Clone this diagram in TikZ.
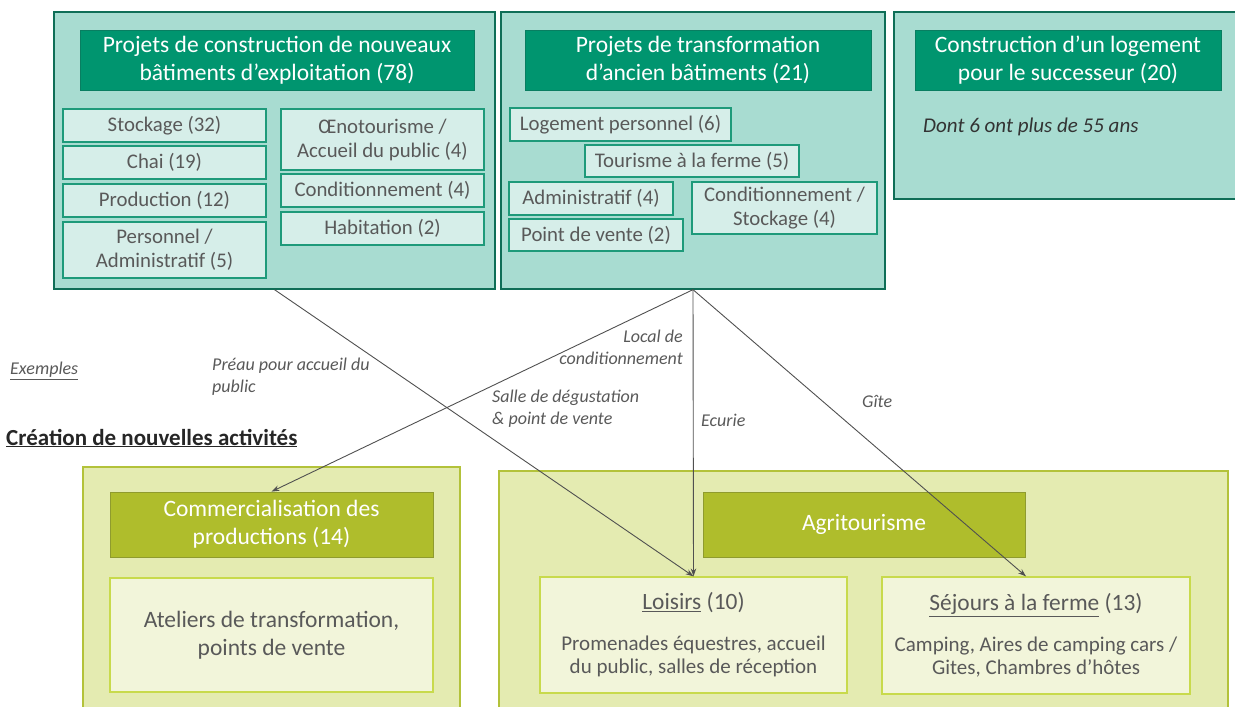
\documentclass[tikz,border=0pt]{standalone}
\usepackage{fontspec}
\setmainfont{Carlito}
\usetikzlibrary{arrows.meta}
\definecolor{tealbg}{HTML}{A8DCD1}
\definecolor{tealbd}{HTML}{0F6E57}
\definecolor{tealtitle}{HTML}{00956F}
\definecolor{tealsub}{HTML}{D6EEE9}
\definecolor{tealsubbd}{HTML}{1E9A7A}
\definecolor{txtgray}{HTML}{595959}
\definecolor{greenbg}{HTML}{E4EBB1}
\definecolor{greenbd}{HTML}{B3C23A}
\definecolor{greentitle}{HTML}{AFBD2C}
\definecolor{greensub}{HTML}{F2F5DA}
\definecolor{greensubbd}{HTML}{C8DA4C}
\definecolor{linegray}{HTML}{505050}
\tikzset{
  outerteal/.style={draw=tealbd, line width=1.3pt, fill=tealbg, inner sep=0},
  titleteal/.style={draw=tealbd!60!tealtitle, line width=0.8pt, fill=tealtitle, text=white, align=center,
     font=\fontsize{23.5}{28}\selectfont, inner sep=0},
  subteal/.style={draw=tealsubbd, line width=1.3pt, fill=tealsub, text=txtgray, align=center,
     font=\fontsize{20.8}{24}\selectfont, inner sep=0},
  outergreen/.style={draw=greenbd, line width=1.3pt, fill=greenbg, inner sep=0},
  titlegreen/.style={draw=greenbd!80!black, line width=0.8pt, fill=greentitle, text=white, align=center,
     font=\fontsize{23.5}{28}\selectfont, inner sep=0},
  subgreen/.style={draw=greensubbd, line width=1.3pt, fill=greensub, text=txtgray, align=center, inner sep=0},
  lbl/.style={text=txtgray, font=\fontsize{18}{22}\selectfont\itshape, inner sep=0},
  conn/.style={draw=linegray, line width=0.9pt, -{Stealth[length=8pt,width=5.5pt]}},
}
\begin{document}
\begin{tikzpicture}[x=1pt,y=-1pt]
\useasboundingbox (0,0) rectangle (1235,707);
% --- Top boxes ---
\node[outerteal, minimum width=441, minimum height=277] (A) at (274.5,150.5) {};
\node[titleteal, minimum width=394, minimum height=60] (Atitle) at (277,60) {Projets de construction de nouveaux\\bâtiments d’exploitation (78)};
\node[subteal, minimum width=203, minimum height=33] (a1) at (164.5,125.5) {Stockage (32)};
\node[subteal, minimum width=203, minimum height=33] (a2) at (164.5,162.5) {Chai (19)};
\node[subteal, minimum width=203, minimum height=33] (a3) at (164.5,200.5) {Production (12)};
\node[subteal, minimum width=203, minimum height=56] (a4) at (164.5,250) {Personnel /\\Administratif (5)};
\node[subteal, minimum width=203, minimum height=61] (a5) at (382.5,139.5) {Œnotourisme /\\Accueil du public (4)};
\node[subteal, minimum width=203, minimum height=33] (a6) at (382.5,190.5) {Conditionnement (4)};
\node[subteal, minimum width=203, minimum height=33] (a7) at (382.5,228.5) {Habitation (2)};

\node[outerteal, minimum width=384, minimum height=277] (B) at (693,150.5) {};
\node[titleteal, minimum width=346, minimum height=60] (Btitle) at (698,60) {Projets de transformation\\d’ancien bâtiments (21)};
\node[subteal, minimum width=221, minimum height=33] (b1) at (620.5,124.5) {Logement personnel (6)};
\node[subteal, minimum width=214, minimum height=32] (b2) at (692,161) {Tourisme à la ferme (5)};
\node[subteal, minimum width=164, minimum height=33] (b3) at (591,198.5) {Administratif (4)};
\node[subteal, minimum width=174, minimum height=32] (b4) at (596,235) {Point de vente (2)};
\node[subteal, minimum width=185, minimum height=52] (b5) at (784.5,208) {Conditionnement /\\Stockage (4)};

\node[outerteal, minimum width=346, minimum height=187] (C) at (1067,105.5) {};
\node[titleteal, minimum width=306, minimum height=60] (Ctitle) at (1068,60) {Construction d’un logement\\pour le successeur (20)};
\node[anchor=west, inner sep=0, text=black!80, font=\fontsize{21}{24}\selectfont\itshape] (Cnote) at (923,127) {Dont 6 ont plus de 55 ans};

% --- Side texts ---
\node[anchor=west, lbl] (ex) at (10,371) {\underline{Exemples}};
\node[anchor=west, inner sep=0, text=black!85, font=\fontsize{23}{26}\selectfont\bfseries] (crea) at (6,438) {\underline{Création de nouvelles activités}};

% --- Bottom boxes ---
\node[outergreen, minimum width=377, minimum height=250] (D) at (271.5,592) {};
\node[titlegreen, minimum width=323, minimum height=65] (comm) at (271.5,524.5) {Commercialisation des\\productions (14)};
\node[subgreen, minimum width=323, minimum height=114, font=\fontsize{23.5}{28}\selectfont] (atel) at (271.5,635) {Ateliers de transformation,\\points de vente};

\node[outergreen, minimum width=729, minimum height=246] (E) at (863.5,594) {};
\node[titlegreen, minimum width=322, minimum height=65] (agri) at (864,524.5) {Agritourisme};
\node[subgreen, minimum width=307, minimum height=116, font=\fontsize{21}{23}\selectfont] (loisirs) at (693.5,635) {{\fontsize{23.4}{23}\selectfont\underline{Loisirs} (10)}\\[18pt]Promenades équestres, accueil\\du public, salles de réception};
\node[subgreen, minimum width=308, minimum height=117, font=\fontsize{21}{23}\selectfont] (sejours) at (1036,635.5) {{\fontsize{23.4}{23}\selectfont\underline{Séjours à la ferme} (13)}\\[18pt]Camping, Aires de camping cars /\\Gites, Chambres d’hôtes};

% --- Connectors ---
\draw[conn] (A.south) -- (loisirs.north);
\draw[conn] (B.south) -- (comm.north);
\draw[conn] (B.south) -- (loisirs.north);
\draw[conn] (B.south) -- ([xshift=-10pt]sejours.north);

% --- Connector labels ---
\node[lbl, anchor=west, align=left] (l1) at (212,377) {Préau pour accueil du\\public};
\node[lbl, anchor=east, align=right] (l2) at (683,347.5) {Local de\\conditionnement};
\node[lbl, anchor=west, align=left] (l3) at (492,409) {Salle de dégustation\\\& point de vente};
\node[lbl, anchor=west] (l4) at (701,420) {Ecurie};
\node[lbl, anchor=west] (l5) at (862,401) {Gîte};
\end{tikzpicture}
\end{document}
